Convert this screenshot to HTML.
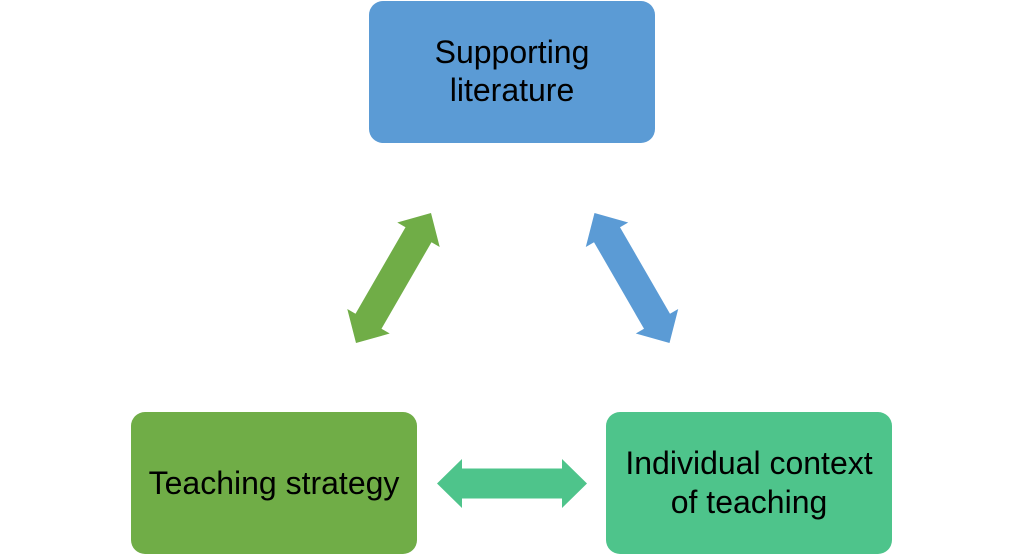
<!DOCTYPE html>
<html><head><meta charset="utf-8"><style>
html,body{margin:0;padding:0;background:#fff;width:1024px;height:556px;overflow:hidden}
svg{display:block}
text{font-family:"Liberation Sans",sans-serif;font-size:32px;fill:#000}
</style></head><body>
<svg width="1024" height="556" viewBox="0 0 1024 556">
<defs>
<path id="arr" d="M-75,0 L-50,-24.5 L-50,-15 L50,-15 L50,-24.5 L75,0 L50,24.5 L50,15 L-50,15 L-50,24.5 Z"/>
</defs>
<rect x="369" y="1" width="286" height="142" rx="14" fill="#5B9BD5"/>
<rect x="131" y="412" width="286" height="142" rx="14" fill="#70AD47"/>
<rect x="606" y="412" width="286" height="142" rx="14" fill="#4EC48B"/>
<text x="512" y="63" text-anchor="middle">Supporting</text>
<text x="512" y="101" text-anchor="middle">literature</text>
<text x="274" y="494" text-anchor="middle">Teaching strategy</text>
<text x="749" y="474" text-anchor="middle">Individual context</text>
<text x="749" y="513" text-anchor="middle">of teaching</text>
<use href="#arr" fill="#70AD47" transform="translate(393.5,278) rotate(-60)"/>
<use href="#arr" fill="#5B9BD5" transform="translate(632,278) rotate(60)"/>
<use href="#arr" fill="#4EC48B" transform="translate(512,483.5)"/>
</svg>
</body></html>
